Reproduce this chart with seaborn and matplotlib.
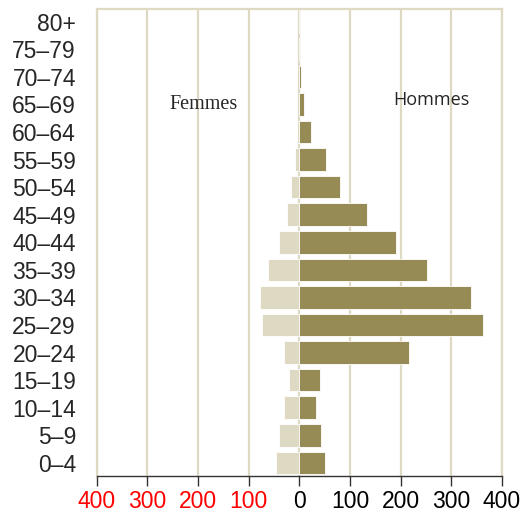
import numpy as np
import matplotlib
matplotlib.use("Agg")
import matplotlib.pyplot as plt
import pandas as pd
import seaborn as sns

ages = ['0–4', '5–9', '10–14', '15–19', '20–24', '25–29', '30–34', '35–39',
        '40–44', '45–49', '50–54', '55–59', '60–64', '65–69', '70–74', '75–79', '80+']
hommes = [50, 43, 33, 40, 216, 362, 339, 252, 191, 133, 81, 52, 22, 9, 3, 2, 1]
femmes = [47, 41, 30, 20, 31, 74, 78, 62, 41, 25, 16, 9, 5, 1, 0, 0, 0]
xticks = [-400, -300, -200, -100, 0, 100, 200, 300, 400]
xlabels = ['400', '300', '200', '100', '0', '100', '200', '300', '400']

df = pd.DataFrame({'age': ages, 'Hommes': hommes, 'Femmes': [-v for v in femmes]})
order = ages[::-1]  # 80+ en haut

sns.set_style('white')
plt.rcParams['font.family'] = ['Liberation Sans', 'DejaVu Sans']

fig = plt.figure(figsize=(5.29, 5.15), dpi=100)
ax = fig.add_axes([0.183, 0.076, 0.766, 0.907])

grid_c = '#DDD9C3'
for x in xticks:
    ax.axvline(x, color=grid_c, lw=1.6, zorder=0)

sns.barplot(data=df, y='age', x='Femmes', order=order, orient='h', color='#DDD9C3',
            width=0.82, saturation=1, edgecolor='white', linewidth=0.6, ax=ax, zorder=2)
sns.barplot(data=df, y='age', x='Hommes', order=order, orient='h', color='#968B55',
            width=0.82, saturation=1, edgecolor='white', linewidth=0.6, ax=ax, zorder=2)

ax.set_xlim(-400, 400)
ax.set_ylim(16.47, -0.47)
ax.set_xlabel('')
ax.set_ylabel('')
ax.set_xticks(xticks)
ax.set_xticklabels(xlabels, fontsize=16.5)
for lab, x in zip(ax.get_xticklabels(), xticks):
    lab.set_color('red' if x < 0 else 'black')
ax.tick_params(axis='x', direction='out', length=7, width=1, color='#333333', pad=3, bottom=True)
ax.tick_params(axis='y', length=0, pad=15, labelsize=16.5)

for s in ['top', 'left', 'right']:
    ax.spines[s].set_color(grid_c)
    ax.spines[s].set_linewidth(1.6)
ax.spines['bottom'].set_color('#333333')
ax.spines['bottom'].set_linewidth(1)

ax.text(-190, 3.0, 'Femmes', family=['Liberation Serif', 'DejaVu Serif'],
        fontsize=14.5, ha='center', va='center')
ax.text(260, 2.85, 'Hommes', family=['Open Sans', 'DejaVu Sans'],
        fontsize=13, ha='center', va='center')

fig.savefig('out.png', dpi=100)
